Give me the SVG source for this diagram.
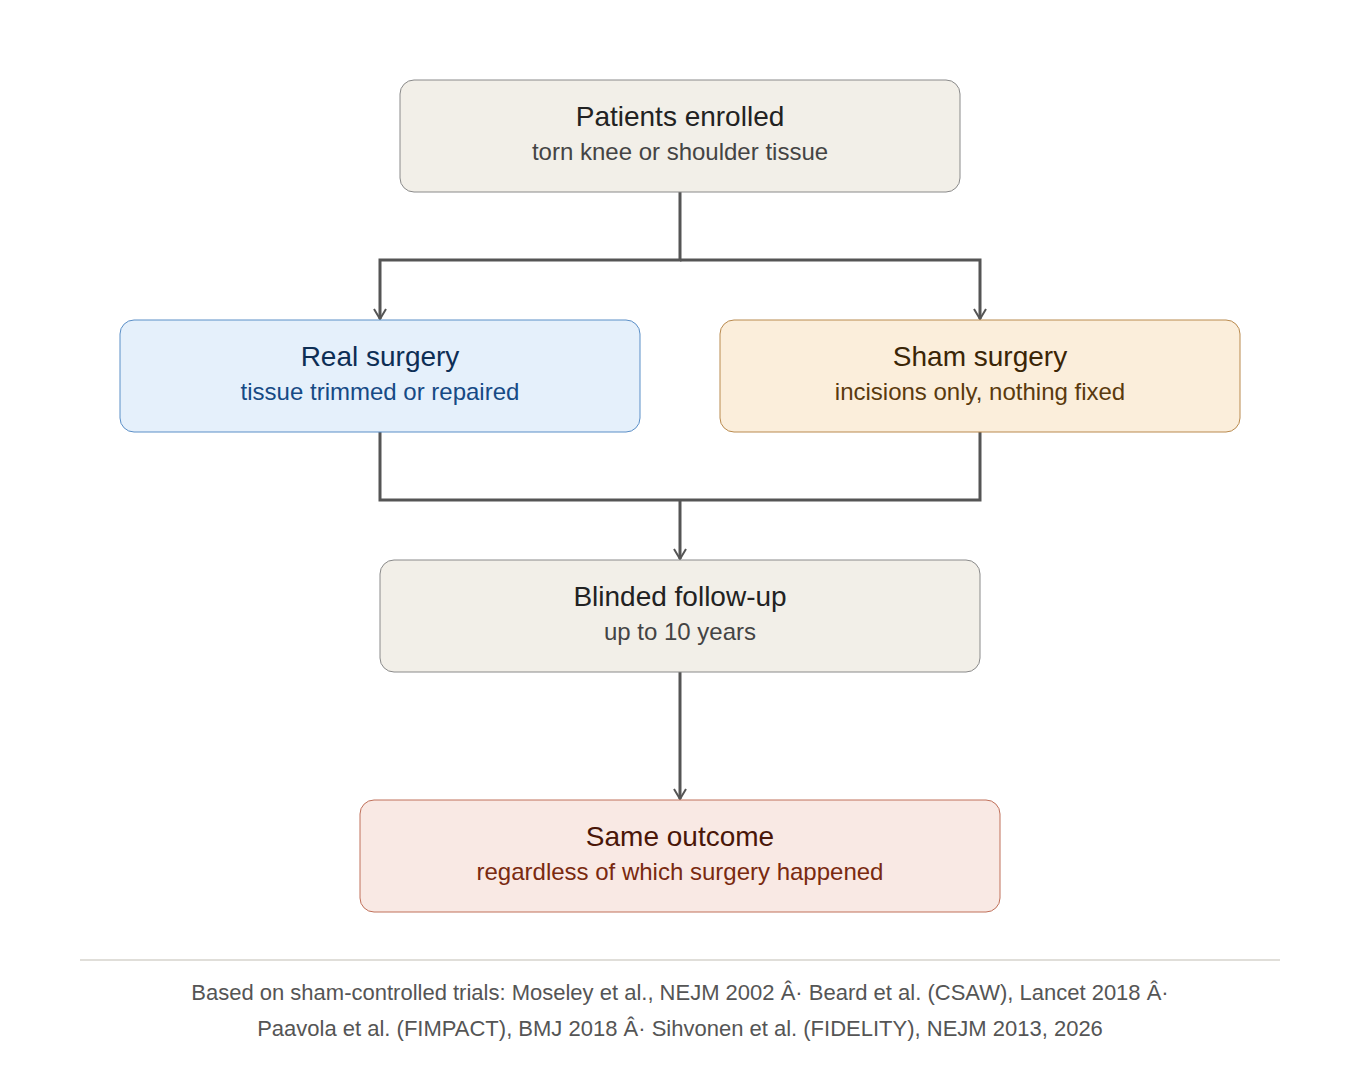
<svg xmlns="http://www.w3.org/2000/svg" width="1360" height="1080" viewBox="0 0 1360 1080">
<style>
text{font-family:"Liberation Sans",Arial,sans-serif;text-anchor:middle}
.t{font-size:28px}.s{font-size:24px}
.c{fill:none;stroke:#555;stroke-width:3}
</style>
<defs><marker id="a" viewBox="0 0 12 14" refX="11" refY="7" markerWidth="12" markerHeight="14" markerUnits="userSpaceOnUse" orient="auto"><path d="M1,1 L11,7 L1,13" fill="none" stroke="#555" stroke-width="2"/></marker></defs>
<rect width="1360" height="1080" fill="#fff"/>
<g id="connectors">
<path class="c" d="M680,192 V260 H380 V319" marker-end="url(#a)"/>
<path class="c" d="M680,260 H980 V319" marker-end="url(#a)"/>
<path class="c" d="M380,432 V500 H980 V432"/>
<path class="c" d="M680,500 V559" marker-end="url(#a)"/>
<path class="c" d="M680,672 V799" marker-end="url(#a)"/>
</g>
<g id="n1"><rect x="400" y="80" width="560" height="112" rx="14" fill="#f2efe8" stroke="#8a8a8a"/>
<text class="t" x="680" y="126" fill="#222">Patients enrolled</text><text class="s" x="680" y="160" fill="#444">torn knee or shoulder tissue</text></g>
<g id="n2"><rect x="120" y="320" width="520" height="112" rx="14" fill="#e5f0fb" stroke="#5b8fc7"/>
<text class="t" x="380" y="366" fill="#0d2e55">Real surgery</text><text class="s" x="380" y="400" fill="#164a85">tissue trimmed or repaired</text></g>
<g id="n3"><rect x="720" y="320" width="520" height="112" rx="14" fill="#fbeedb" stroke="#b98a4e"/>
<text class="t" x="980" y="366" fill="#3a2506">Sham surgery</text><text class="s" x="980" y="400" fill="#5a3a0e">incisions only, nothing fixed</text></g>
<g id="n4"><rect x="380" y="560" width="600" height="112" rx="14" fill="#f2efe8" stroke="#8a8a8a"/>
<text class="t" x="680" y="606" fill="#222">Blinded follow-up</text><text class="s" x="680" y="640" fill="#444">up to 10 years</text></g>
<g id="n5"><rect x="360" y="800" width="640" height="112" rx="14" fill="#f9e9e4" stroke="#c0705a"/>
<text class="t" x="680" y="846" fill="#4a1608">Same outcome</text><text class="s" x="680" y="880" fill="#7a2a10">regardless of which surgery happened</text></g>
<line x1="80" y1="960" x2="1280" y2="960" stroke="#d6d3cc" stroke-width="1.5"/>
<g fill="#555"><text x="680" y="1000" style="font-size:22px">Based on sham-controlled trials: Moseley et al., NEJM 2002 Â· Beard et al. (CSAW), Lancet 2018 Â·</text>
<text x="680" y="1036" style="font-size:22px">Paavola et al. (FIMPACT), BMJ 2018 Â· Sihvonen et al. (FIDELITY), NEJM 2013, 2026</text></g>
</svg>
